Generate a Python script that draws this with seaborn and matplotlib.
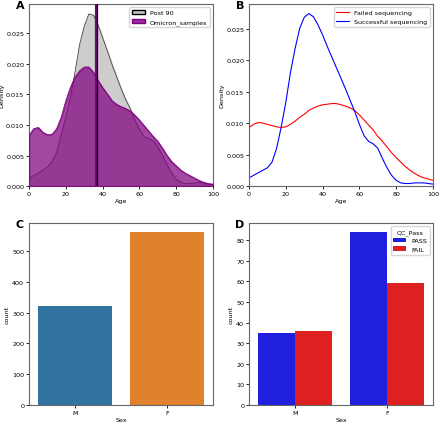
import numpy as np
import pandas as pd
import seaborn as sns
import matplotlib.pyplot as plt
from matplotlib.patches import Patch

# age grid (every 2.5 years) for the density curves
age = [i * 2.5 for i in range(41)]

post90 = [0.0013, 0.0017, 0.0021, 0.0026, 0.0031, 0.0040, 0.0055, 0.0085, 0.0113, 0.0145,
          0.0187, 0.0232, 0.0262, 0.0282, 0.0280, 0.0264, 0.0243, 0.0222, 0.0200, 0.0180,
          0.0160, 0.0142, 0.0127, 0.0108, 0.0093, 0.0081, 0.0078, 0.0074, 0.0064, 0.0050,
          0.0035, 0.0021, 0.0011, 0.0006, 0.0004, 0.0004, 0.0005, 0.0006, 0.0005, 0.0003, 0.0002]
omicron = [0.0083, 0.0094, 0.0096, 0.0088, 0.0084, 0.0085, 0.0094, 0.0113, 0.0140, 0.0162,
           0.0179, 0.0189, 0.0195, 0.0195, 0.0186, 0.0173, 0.0161, 0.0151, 0.0140, 0.0134,
           0.0130, 0.0127, 0.0123, 0.0116, 0.0108, 0.0099, 0.0090, 0.0081, 0.0073, 0.0062,
           0.0050, 0.0040, 0.0033, 0.0026, 0.0021, 0.0017, 0.0013, 0.0009, 0.0006, 0.0004, 0.0003]
mean_omicron = 36.3
mean_post90 = 37.1

failed = [0.0093, 0.0098, 0.0101, 0.0100, 0.0098, 0.0096, 0.0094, 0.0093, 0.0094, 0.0098,
          0.0103, 0.0109, 0.0114, 0.0120, 0.0124, 0.0127, 0.0129, 0.0130, 0.0131, 0.0131,
          0.0129, 0.0127, 0.0124, 0.0120, 0.0113, 0.0105, 0.0097, 0.0089, 0.0079, 0.0071,
          0.0062, 0.0053, 0.0045, 0.0038, 0.0031, 0.0025, 0.0020, 0.0016, 0.0013, 0.0011, 0.0009]
success = [0.0013, 0.0017, 0.0021, 0.0025, 0.0029, 0.0038, 0.0060, 0.0094, 0.0133, 0.0180,
           0.0218, 0.0250, 0.0268, 0.0274, 0.0269, 0.0256, 0.0240, 0.0222, 0.0205, 0.0188,
           0.0171, 0.0154, 0.0136, 0.0118, 0.0098, 0.0080, 0.0071, 0.0067, 0.0060, 0.0044,
           0.0029, 0.0017, 0.0009, 0.0005, 0.0004, 0.0004, 0.0005, 0.0005, 0.0005, 0.0004, 0.0003]

sex = ["M", "F"]
sex_count = [320, 562]

qc = ["PASS", "FAIL"]
pass_count = [35, 84]
fail_count = [36, 59]

fs = 4.6
plt.rcParams['font.size'] = fs

fig = plt.figure(figsize=(4.4, 4.27), dpi=100)
axA = fig.add_axes([0.066, 0.562, 0.418, 0.426])
axB = fig.add_axes([0.566, 0.562, 0.418, 0.426])
axC = fig.add_axes([0.066, 0.049, 0.418, 0.426])
axD = fig.add_axes([0.566, 0.049, 0.418, 0.426])

# A
axA.fill_between(age, post90, color="#c8c8c8", alpha=0.9, zorder=1)
sns.lineplot(x=age, y=post90, color="#333333", lw=0.5, ax=axA, zorder=2)
axA.fill_between(age, omicron, color="purple", alpha=0.72, zorder=3)
sns.lineplot(x=age, y=omicron, color="purple", lw=0.5, ax=axA, zorder=3)
axA.axvline(mean_omicron, color="purple", lw=1.6, zorder=4)
axA.axvline(mean_post90, color="black", lw=0.9, zorder=5)
axA.set_xlim(0, 100)
axA.set_ylim(0, 0.0298)
axA.set_xlabel("Age", fontsize=fs, labelpad=1.5)
axA.set_ylabel("Density", fontsize=fs, labelpad=1.5)
axA.legend(handles=[Patch(facecolor="#c8c8c8", edgecolor="black", label="Post 90"),
                    Patch(facecolor="#9b2d9b", edgecolor="purple", label="Omicron_samples")],
           loc="upper right", fontsize=fs)

# B
sns.lineplot(x=age, y=failed, color="red", lw=0.8, ax=axB, label="Failed sequencing")
sns.lineplot(x=age, y=success, color="blue", lw=0.8, ax=axB, label="Successful sequencing")
axB.set_xlim(0, 100)
axB.set_ylim(0, 0.0289)
axB.set_xlabel("Age", fontsize=fs, labelpad=1.5)
axB.set_ylabel("Density", fontsize=fs, labelpad=1.5)
axB.legend(loc="upper right", fontsize=fs)

# C
dfC = pd.DataFrame({"Sex": sex, "count": sex_count})
sns.barplot(data=dfC, x="Sex", y="count", hue="Sex", palette=["#1f77b4", "#ff7f0e"],
            legend=False, ax=axC)
axC.set_xlabel("Sex", fontsize=fs, labelpad=1.5)
axC.set_ylabel("count", fontsize=fs, labelpad=1.5)

# D
dfD = pd.DataFrame({"Sex": sex * 2, "QC_Pass": ["PASS", "PASS", "FAIL", "FAIL"],
                    "count": pass_count + fail_count})
sns.barplot(data=dfD, x="Sex", y="count", hue="QC_Pass", hue_order=qc,
            palette=["blue", "red"], ax=axD)
axD.set_xlabel("Sex", fontsize=fs, labelpad=1.5)
axD.set_ylabel("count", fontsize=fs, labelpad=1.5)
axD.legend(title="QC_Pass", loc="upper right", fontsize=fs, title_fontsize=fs)

for ax in [axA, axB, axC, axD]:
    ax.tick_params(labelsize=fs, length=2, width=0.6, pad=1.5)
    for s in ax.spines.values():
        s.set_linewidth(0.8)
        s.set_color("#666666")

for ax, lab in zip([axA, axB, axC, axD], "ABCD"):
    ax.text(-0.05, 0.995, lab, transform=ax.transAxes, fontsize=8, fontweight="bold",
            ha="center", va="center")

fig.savefig("out.png", dpi=100)
